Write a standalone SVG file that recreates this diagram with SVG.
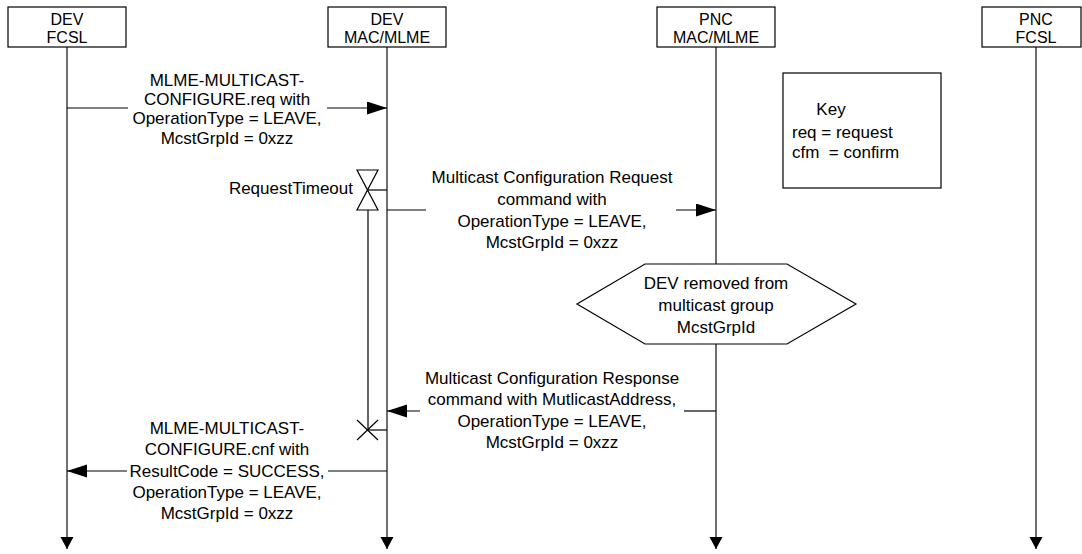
<svg xmlns="http://www.w3.org/2000/svg" width="1082" height="554" viewBox="0 0 1082 554">
<defs>
<marker id="ah" markerUnits="userSpaceOnUse" markerWidth="22" markerHeight="14" refX="20" refY="6.5" orient="auto">
<path d="M0,0 L20,6.5 L0,13 Z" fill="#000"/>
</marker>
<marker id="lh" markerUnits="userSpaceOnUse" markerWidth="16" markerHeight="14" refX="12" refY="6.5" orient="auto">
<path d="M0,0 L12,6.5 L0,13 Z" fill="#000"/>
</marker>
</defs>
<style>
text{font-family:"Liberation Sans",Arial,sans-serif;font-size:17px;fill:#000}
.c{text-anchor:middle}
.b{font-size:16px}
.box{fill:#fff;stroke:#000;stroke-width:1.2}
.ll{stroke:#222;stroke-width:1.3;fill:none}
.m{stroke:#000;stroke-width:1.2;fill:none}
</style>
<rect width="1082" height="554" fill="#fff"/>

<g id="lifelines">
<line class="ll" x1="67" y1="47" x2="67" y2="549" marker-end="url(#lh)"/>
<line class="ll" x1="387" y1="47" x2="387" y2="549" marker-end="url(#lh)"/>
<line class="ll" x1="716" y1="47" x2="716" y2="264"/>
<line class="ll" x1="716" y1="344" x2="716" y2="549" marker-end="url(#lh)"/>
<line class="ll" x1="1036" y1="47" x2="1036" y2="549" marker-end="url(#lh)"/>
</g>

<g id="dev-fcsl">
<rect class="box" x="8" y="7" width="118" height="40"/>
<text class="c b" x="67" y="25">DEV</text>
<text class="c b" x="67" y="43">FCSL</text>
</g>
<g id="dev-mac">
<rect class="box" x="328" y="7" width="118" height="40"/>
<text class="c b" x="387" y="25">DEV</text>
<text class="c b" x="387" y="43">MAC/MLME</text>
</g>
<g id="pnc-mac">
<rect class="box" x="657" y="7" width="118" height="40"/>
<text class="c b" x="716" y="25">PNC</text>
<text class="c b" x="716" y="43">MAC/MLME</text>
</g>
<g id="pnc-fcsl">
<rect class="box" x="982" y="7" width="99" height="40"/>
<text class="c b" x="1036" y="25">PNC</text>
<text class="c b" x="1036" y="43">FCSL</text>
</g>

<g id="key">
<rect class="box" x="783" y="73" width="158" height="115"/>
<text class="c" x="831" y="115">Key</text>
<text x="792" y="138">req = request</text>
<text x="792" y="158" xml:space="preserve">cfm  = confirm</text>
</g>

<g id="removed">
<polygon class="box" points="645,264 787,264 856,304 787,344 645,344 577,304"/>
<text class="c" x="716" y="289">DEV removed from</text>
<text class="c" x="716" y="311">multicast group</text>
<text class="c" x="716" y="333">McstGrpId</text>
</g>

<g id="timer">
<text x="353" y="194" text-anchor="end">RequestTimeout</text>
<path class="m" d="M357,170 L378,170 L357,210 L378,210 Z"/>
<line class="m" x1="367.5" y1="190" x2="387" y2="190"/>
<line class="m" x1="368" y1="210" x2="368" y2="430"/>
<path class="m" d="M357,420 L378,440 M378,420 L357,440"/>
<line class="m" x1="367.5" y1="430" x2="387" y2="430"/>
</g>

<g id="connectors">
<line class="m" x1="67" y1="108" x2="128" y2="108"/>
<line class="m" x1="327" y1="108" x2="387" y2="108" marker-end="url(#ah)"/>
<line class="m" x1="387" y1="210" x2="426" y2="210"/>
<line class="m" x1="676" y1="210" x2="716" y2="210" marker-end="url(#ah)"/>
<line class="m" x1="716" y1="411" x2="684" y2="411"/>
<line class="m" x1="420" y1="411" x2="387" y2="411" marker-end="url(#ah)"/>
<line class="m" x1="387" y1="471" x2="328" y2="471"/>
<line class="m" x1="127" y1="471" x2="67" y2="471" marker-end="url(#ah)"/>
</g>

<g id="labels">
<text class="c" x="227" y="86">MLME-MULTICAST-</text>
<text class="c" x="227" y="105">CONFIGURE.req with</text>
<text class="c" x="227" y="124">OperationType = LEAVE,</text>
<text class="c" x="227" y="144">McstGrpId = 0xzz</text>

<text class="c" x="552" y="183">Multicast Configuration Request</text>
<text class="c" x="552" y="205">command with</text>
<text class="c" x="552" y="227">OperationType = LEAVE,</text>
<text class="c" x="552" y="248">McstGrpId = 0xzz</text>

<text class="c" x="552" y="384">Multicast Configuration Response</text>
<text class="c" x="552" y="405">command with MutlicastAddress,</text>
<text class="c" x="552" y="427">OperationType = LEAVE,</text>
<text class="c" x="552" y="448">McstGrpId = 0xzz</text>

<text class="c" x="227" y="434">MLME-MULTICAST-</text>
<text class="c" x="227" y="455">CONFIGURE.cnf with</text>
<text class="c" x="227" y="477">ResultCode = SUCCESS,</text>
<text class="c" x="227" y="498">OperationType = LEAVE,</text>
<text class="c" x="227" y="519">McstGrpId = 0xzz</text>
</g>
</svg>
